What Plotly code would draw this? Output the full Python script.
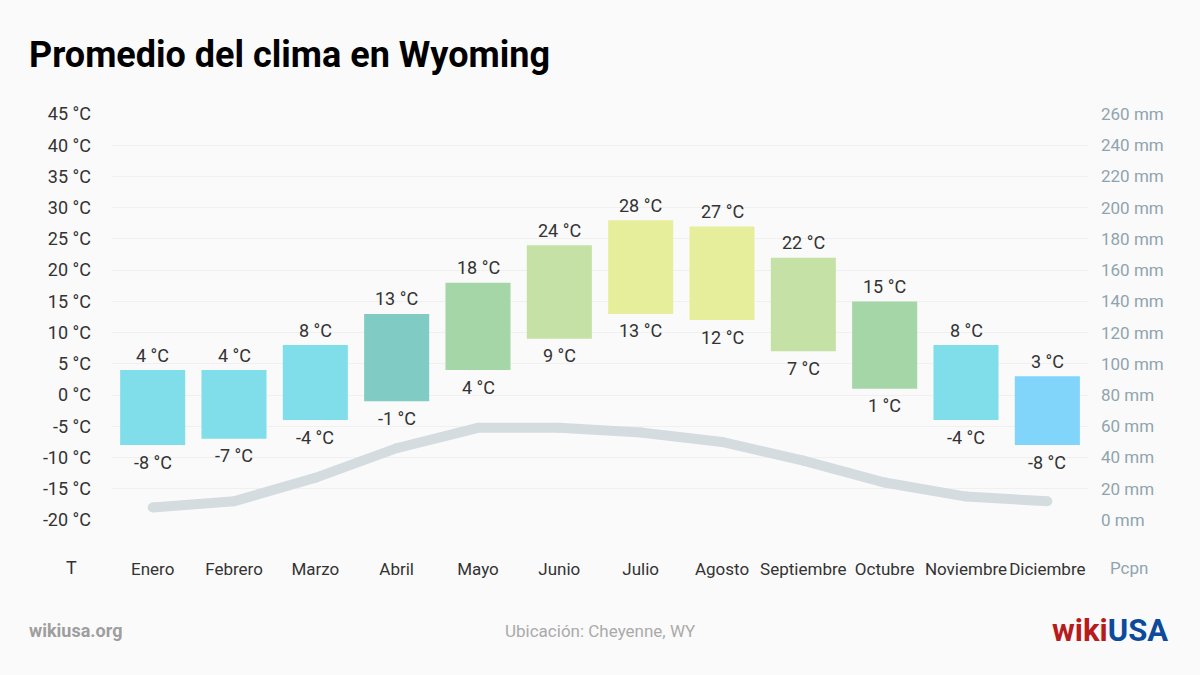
import plotly.graph_objects as go

months = ["Enero", "Febrero", "Marzo", "Abril", "Mayo", "Junio", "Julio",
          "Agosto", "Septiembre", "Octubre", "Noviembre", "Diciembre"]
t_max = [4, 4, 8, 13, 18, 24, 28, 27, 22, 15, 8, 3]
t_min = [-8, -7, -4, -1, 4, 9, 13, 12, 7, 1, -4, -8]
precip = [8, 12, 27, 46, 59, 59, 56, 50, 38, 24, 15, 12]

temp_ticks = list(range(-20, 50, 5))
precip_ticks = list(range(0, 280, 20))

bar_colors = ["#80deea", "#80deea", "#80deea", "#80cbc4", "#a5d6a7", "#c5e1a5",
              "#e6ee9c", "#e6ee9c", "#c5e1a5", "#a5d6a7", "#80deea", "#81d4fa"]

FONT = "Roboto, 'Open Sans', sans-serif"
TXT = "#333333"
GREY = "#90a4ae"
FS = 18

fig = go.Figure()

fig.add_trace(go.Bar(
    x=months, y=[a - b for a, b in zip(t_max, t_min)], base=t_min,
    marker=dict(color=bar_colors, line=dict(width=0)), width=0.8,
    hoverinfo="skip", yaxis="y"))

fig.add_trace(go.Scatter(
    x=months, y=precip, mode="lines+markers", yaxis="y2",
    line=dict(color="#d5dce0", width=10, shape="linear"),
    marker=dict(color="#d5dce0", size=10, line=dict(width=0)),
    hoverinfo="skip"))

for m, hi, lo in zip(months, t_max, t_min):
    fig.add_annotation(x=m, y=hi, xref="x", yref="y", text=f"{hi} °C",
                       showarrow=False, yanchor="middle", yshift=15,
                       font=dict(family=FONT, size=FS, color=TXT))
    fig.add_annotation(x=m, y=lo, xref="x", yref="y", text=f"{lo} °C",
                       showarrow=False, yanchor="middle", yshift=-17,
                       font=dict(family=FONT, size=FS, color=TXT))

fig.update_layout(
    width=1200, height=675,
    paper_bgcolor="#fafafa", plot_bgcolor="#fafafa",
    margin=dict(l=112, r=112, t=114, b=155),
    showlegend=False, bargap=0.2,
    font=dict(family=FONT, color=TXT, size=FS),
    xaxis=dict(type="category", range=[-0.5, 11.5], showgrid=False,
               zeroline=False, showline=False, ticks="", tickangle=0,
               tickfont=dict(family=FONT, size=17, color=TXT),
               ticklabelstandoff=37),
    yaxis=dict(range=[-20, 45], tickvals=temp_ticks,
               ticktext=[f"{v} °C" for v in temp_ticks],
               showgrid=True, gridcolor="#f0f0f0", gridwidth=1,
               zeroline=False, showline=False, ticks="",
               tickfont=dict(family=FONT, size=FS, color=TXT),
               ticklabelstandoff=20),
    yaxis2=dict(range=[0, 260], tickvals=precip_ticks,
                ticktext=[f"{v} mm" for v in precip_ticks],
                overlaying="y", side="right", showgrid=False,
                zeroline=False, showline=False, ticks="",
                tickfont=dict(family=FONT, size=17, color=GREY),
                ticklabelstandoff=12),
)

fig.add_annotation(text="<b>Promedio del clima en Wyoming</b>", xref="paper", yref="paper",
                   x=-0.087, y=1.145, xanchor="left", yanchor="middle", showarrow=False,
                   font=dict(family=FONT, size=36, color="#000000"))
fig.add_annotation(text="T", xref="paper", yref="paper", x=-0.042, y=-0.118,
                   xanchor="center", yanchor="middle", showarrow=False,
                   font=dict(family=FONT, size=FS, color=TXT))
fig.add_annotation(text="Pcpn", xref="paper", yref="paper", x=1.042, y=-0.118,
                   xanchor="center", yanchor="middle", showarrow=False,
                   font=dict(family=FONT, size=17, color=GREY))
fig.add_annotation(text="<b>wikiusa.org</b>", xref="paper", yref="paper", x=-0.087, y=-0.273,
                   xanchor="left", yanchor="middle", showarrow=False,
                   font=dict(family=FONT, size=18, color="#9e9e9e"))
fig.add_annotation(text="Ubicación: Cheyenne, WY", xref="paper", yref="paper", x=0.5, y=-0.273,
                   xanchor="center", yanchor="middle", showarrow=False,
                   font=dict(family=FONT, size=17, color="#aaaaaa"))
fig.add_annotation(text="<b><span style='color:#b71c1c'>wiki</span><span style='color:#0d4a9a'>USA</span></b>",
                   xref="paper", yref="paper", x=1.084, y=-0.273,
                   xanchor="right", yanchor="middle", showarrow=False,
                   font=dict(family=FONT, size=31))

fig.write_html("out.html", config={"displayModeBar": False},
               post_script="document.body.style.margin='0';document.body.style.background='#fafafa';")
